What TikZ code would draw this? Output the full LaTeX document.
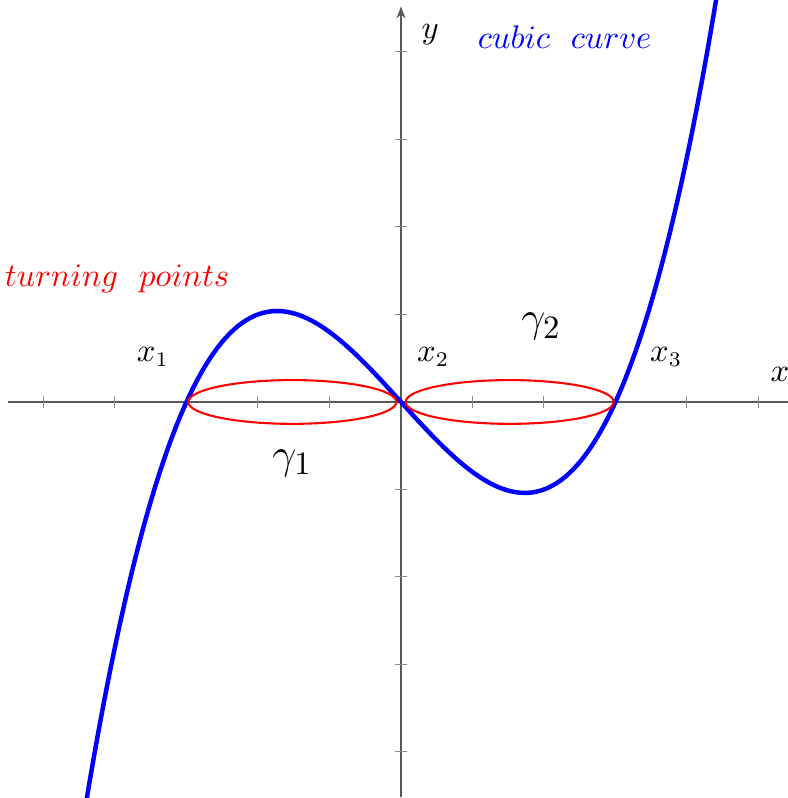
\documentclass[tikz,border=0pt]{standalone}
\usepackage{amsmath, amssymb}
\usepackage{xcolor}
\usepackage{tikz}
\usetikzlibrary{arrows.meta, positioning}
\tikzset{
  axisline/.style={draw=black!65, line width=0.5pt},
  tickmark/.style={draw=black!45, line width=0.35pt},
  cubicline/.style={draw=blue, line width=1.5pt},
  loopline/.style={draw=red, line width=0.7pt},
  plainlabel/.style={font=\fontsize{10.5}{12}\selectfont},
  redlabel/.style={plainlabel, text=red},
  bluelabel/.style={plainlabel, text=blue},
  gammalabel/.style={font=\fontsize{15}{18}\selectfont}
}

\begin{document}
\begin{tikzpicture}[x=0.8423cm, y=1.0308cm]

  \useasboundingbox (-5.608,-4.526) rectangle (5.399,4.594);

  % axes
  \draw[axisline] (-5.5,0) -- (5.45,0);
  \draw[axisline, -{Stealth[length=4pt, width=3pt]}] (0,-4.52) -- (0,4.52);
  \foreach \i in {-5,-4,-3,-2,-1,1,2,3,4,5}
    \draw[tickmark] (\i,-0.065) -- (\i,0.065);
  \foreach \j in {-4,-3,-2,-1,1,2,3,4}
    \draw[tickmark] (-0.08,\j) -- (0.08,\j);

  \node[plainlabel] (xlab) at (5.3,0.31)  {$x$};
  \node[plainlabel] (ylab) at (0.41,4.2) {$y$};

  % the curve
  \draw[cubicline] plot[domain=-4.42:4.43, samples=120, smooth]
    (\x,{0.1*(\x*\x*\x-9*\x)});

  % closed loops around the roots
  \draw[loopline] (-1.52,0) ellipse[x radius=1.455, y radius=0.25];
  \draw[loopline] ( 1.52,0) ellipse[x radius=1.455, y radius=0.25];

  \node[plainlabel] (xone)   at (-3.47,0.51) {$x_1$};
  \node[plainlabel] (xtwo)   at (0.45,0.51)  {$x_2$};
  \node[plainlabel] (xthree) at (3.71,0.51)  {$x_3$};

  \node[gammalabel] (gone) at (-1.52,-0.70) {$\gamma_1$};
  \node[gammalabel] (gtwo) at (1.96,0.86)   {$\gamma_2$};

  \node[redlabel]  (turn)  at (-3.97,1.41) {$turning\ \ points$};
  \node[bluelabel] (cubic) at (2.29,4.17)  {$cubic\ \ curve$};

\end{tikzpicture}
\end{document}
